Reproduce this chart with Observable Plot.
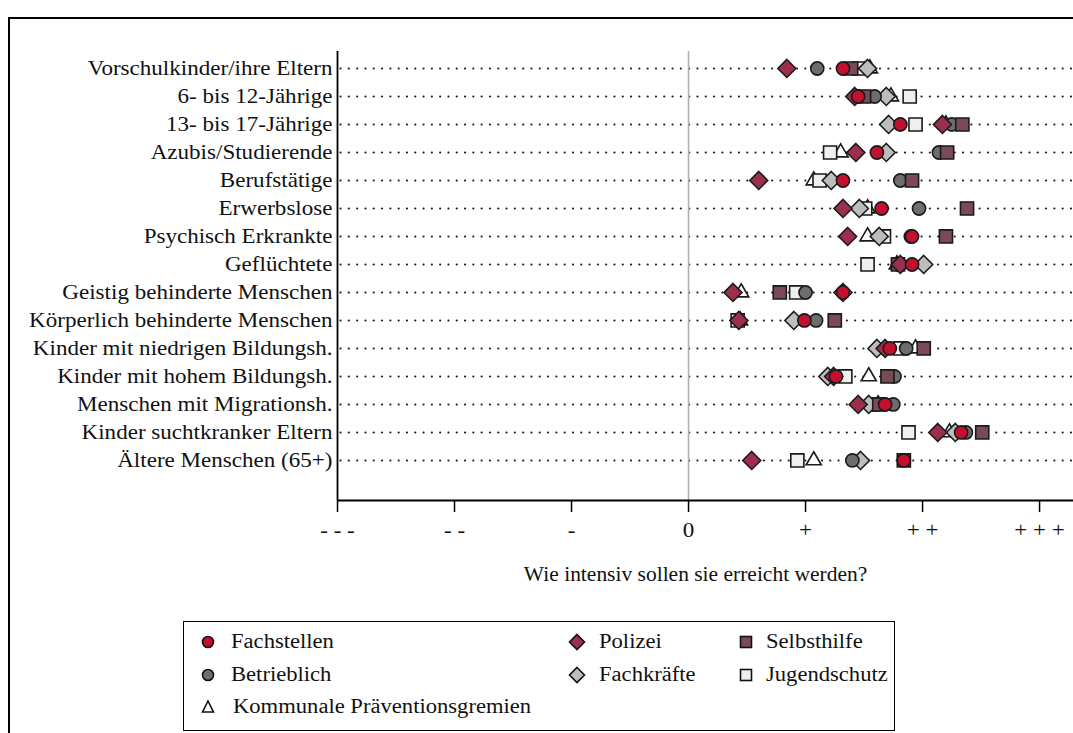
<!DOCTYPE html>
<html>
<head>
<meta charset="utf-8">
<script src="https://cdn.jsdelivr.net/npm/d3@7"></script>
<script src="https://cdn.jsdelivr.net/npm/@observablehq/plot@0.6"></script>
<style>
  html, body { margin: 0; padding: 0; background: #fff; }
  #wrap { position: relative; width: 1073px; height: 733px; overflow: hidden; background: #fff; font-family: "Liberation Serif", "Times New Roman", serif; }
  #frame { position: absolute; left: 8px; top: 17px; width: 1100px; height: 800px; border: 2px solid #000; box-sizing: border-box; }
  #chart { position: absolute; left: 0; top: 0; }
  #legend { position: absolute; left: 183px; top: 621px; width: 712px; height: 110px; border: 1.5px solid #000; box-sizing: border-box; background: #fff; }
  .li { position: absolute; font-size: 20px; color: #111; white-space: nowrap; transform: scaleX(1.13); transform-origin: left center; }
  .ls { position: absolute; }
</style>
</head>
<body>
<div id="wrap">
  <div id="frame"></div>
  <div id="chart"></div>
  <div id="legend"></div>
</div>
<script>
const categories = [
  "Vorschulkinder/ihre Eltern",
  "6- bis 12-Jährige",
  "13- bis 17-Jährige",
  "Azubis/Studierende",
  "Berufstätige",
  "Erwerbslose",
  "Psychisch Erkrankte",
  "Geflüchtete",
  "Geistig behinderte Menschen",
  "Körperlich behinderte Menschen",
  "Kinder mit niedrigen Bildungsh.",
  "Kinder mit hohem Bildungsh.",
  "Menschen mit Migrationsh.",
  "Kinder suchtkranker Eltern",
  "Ältere Menschen (65+)"
];

const fachstellen   = [1.32, 1.45, 1.81, 1.61, 1.32, 1.65, 1.91, 1.91, 1.32, 0.99, 1.72, 1.26, 1.68, 2.33, 1.84];
const betrieblich   = [1.10, 1.59, 2.25, 2.14, 1.81, 1.97, 1.90, 1.80, 1.00, 1.09, 1.86, 1.76, 1.75, 2.37, 1.40];
const kommunale     = [1.55, 1.73, 2.20, 1.30, 1.07, 1.53, 1.53, 1.78, 0.45, 0.44, 1.94, 1.54, 1.62, 2.23, 1.07];
const polizei       = [0.84, 1.42, 2.17, 1.43, 0.60, 1.32, 1.36, 1.81, 0.38, 0.43, 1.68, 1.24, 1.45, 2.13, 0.54];
const fachkraefte   = [1.53, 1.69, 1.71, 1.69, 1.22, 1.46, 1.63, 2.01, 1.32, 0.90, 1.61, 1.19, 1.54, 2.28, 1.47];
const selbsthilfe   = [1.39, 1.50, 2.34, 2.21, 1.91, 2.38, 2.20, 1.79, 0.78, 1.25, 2.01, 1.70, 1.63, 2.51, 1.84];
const jugendschutz  = [1.46, 1.89, 1.94, 1.21, 1.12, 1.51, 1.67, 1.53, 0.92, 0.42, 1.81, 1.34, 1.58, 1.88, 0.93];

const xTicks = [-3, -2, -1, 0, 1, 2, 3];
const xTickLabels = ["- - -", "- -", "-", "0", "+", "+ +", "+ + +"];
const xLabel = "Wie intensiv sollen sie erreicht werden?";

// series in drawing order (later = on top)
const series = [
  {name: "Kommunale Präventionsgremien", values: kommunale, symbol: "triangle", fill: "#ffffff", r: 5.6},
  {name: "Jugendschutz", values: jugendschutz, symbol: "square", fill: "#efefef", r: 7.4},
  {name: "Fachkräfte", values: fachkraefte, symbol: "diamond2", fill: "#bdbdbd", r: 8.1},
  {name: "Betrieblich", values: betrieblich, symbol: "circle", fill: "#6d6d6d", r: 6.6},
  {name: "Selbsthilfe", values: selbsthilfe, symbol: "square", fill: "#7a4a57", r: 7.4},
  {name: "Polizei", values: polizei, symbol: "diamond2", fill: "#9c2f4b", r: 8.1},
  {name: "Fachstellen", values: fachstellen, symbol: "circle", fill: "#c4102f", r: 6.6}
];

const rows = categories.map((c, i) => ({cat: c, i}));
const yTop = -0.607, yBottom = 15.43, xMin = -3, xMax = 3.29;
const font = '"Liberation Serif", "Times New Roman", serif';

const dotMarks = series.map(s => Plot.dot(
  s.values.map((v, i) => ({v, i})).filter(d => d.v != null),
  {x: "v", y: "i", symbol: () => s.symbol, r: s.r, fill: s.fill, stroke: "#1a1a1a", strokeWidth: 1.6}
));

const chart = Plot.plot({
  width: 1073,
  height: 600,
  marginLeft: 337,
  marginRight: 0,
  marginTop: 51,
  marginBottom: 100,
  style: {fontFamily: font, background: "transparent", overflow: "visible"},
  x: {domain: [xMin, xMax], axis: null},
  y: {domain: [yTop, yBottom], reverse: true, axis: null},
  symbol: {type: "identity"},
  marks: [
    Plot.ruleY(rows, {y: "i", x1: -2.97, x2: xMax, stroke: "#1a1a1a", strokeWidth: 2.1, strokeDasharray: "0.1,8.2", strokeLinecap: "round"}),
    Plot.ruleX([0], {y1: yTop, y2: yBottom, stroke: "#b0b0b0", strokeWidth: 1.6}),
    Plot.ruleX([xMin], {y1: yTop, y2: yBottom, stroke: "#000", strokeWidth: 1.8}),
    Plot.ruleY([yBottom], {x1: xMin, x2: xMax, stroke: "#000", strokeWidth: 1.8}),
    Plot.text(rows, {x: xMin, y: "i", text: "cat", textAnchor: "end", dx: -5, fontSize: 20, fill: "#111"}),
    Plot.ruleX(xTicks, {x: d => d, y1: yBottom, y2: yBottom + 0.43, stroke: "#000", strokeWidth: 1.5}),
    Plot.text(xTicks, {x: d => d, y: yBottom + 1.07, text: (d, i) => xTickLabels[i], fontSize: 20, fill: "#111"}),
    Plot.text([xLabel], {x: 0.06, y: yBottom + 2.64, text: d => d, fontSize: 20, fill: "#111"}),
    ...dotMarks
  ]
});
document.getElementById("chart").appendChild(chart);

// widen the serif text horizontally like the reference (scale about each text's anchor point)
d3.select(chart).selectAll("text").each(function() {
  const k = this.textContent === xLabel ? 1.075 : 1.153;
  const tr = this.getAttribute("transform");
  if (tr) {
    this.setAttribute("transform", `${tr} scale(${k},1)`);
  } else {
    const x = +(this.getAttribute("x") || 0), y = +(this.getAttribute("y") || 0);
    this.removeAttribute("x"); this.removeAttribute("y");
    this.setAttribute("transform", `translate(${x},${y}) scale(${k},1)`);
  }
});

// Legend
const legendItems = [
  {name: "Fachstellen", symbol: "circle", fill: "#c4102f", lx: 24, ly: 20, tx: 47},
  {name: "Betrieblich", symbol: "circle", fill: "#6d6d6d", lx: 24, ly: 53, tx: 47},
  {name: "Kommunale Präventionsgremien", symbol: "triangle", fill: "#ffffff", lx: 24, ly: 85, tx: 49},
  {name: "Polizei", symbol: "diamond", fill: "#9c2f4b", lx: 393, ly: 20, tx: 415},
  {name: "Fachkräfte", symbol: "diamond", fill: "#bdbdbd", lx: 393, ly: 53, tx: 415},
  {name: "Selbsthilfe", symbol: "square", fill: "#7a4a57", lx: 562, ly: 20, tx: 582},
  {name: "Jugendschutz", symbol: "square", fill: "#efefef", lx: 562, ly: 53, tx: 582}
];
const legend = document.getElementById("legend");
const ns = "http://www.w3.org/2000/svg";
for (const it of legendItems) {
  const svg = document.createElementNS(ns, "svg");
  svg.setAttribute("width", 20); svg.setAttribute("height", 20);
  svg.setAttribute("class", "ls");
  svg.style.left = (it.lx - 10) + "px"; svg.style.top = (it.ly - 10) + "px";
  let el;
  if (it.symbol === "circle") {
    el = document.createElementNS(ns, "circle");
    el.setAttribute("cx", 10); el.setAttribute("cy", 10); el.setAttribute("r", 5.5);
  } else if (it.symbol === "square") {
    el = document.createElementNS(ns, "rect");
    el.setAttribute("x", 4.5); el.setAttribute("y", 4.5); el.setAttribute("width", 11); el.setAttribute("height", 11);
  } else if (it.symbol === "diamond") {
    el = document.createElementNS(ns, "path");
    el.setAttribute("d", "M10,2.5L17.5,10L10,17.5L2.5,10Z");
  } else {
    el = document.createElementNS(ns, "path");
    el.setAttribute("d", "M10,4L15.5,15L4.5,15Z");
  }
  el.setAttribute("fill", it.fill); el.setAttribute("stroke", "#111"); el.setAttribute("stroke-width", 1.6);
  svg.appendChild(el);
  legend.appendChild(svg);
  const t = document.createElement("div");
  t.className = "li";
  t.textContent = it.name;
  t.style.left = it.tx + "px";
  t.style.top = (it.ly - 12) + "px";
  legend.appendChild(t);
}
</script>
</body>
</html>
